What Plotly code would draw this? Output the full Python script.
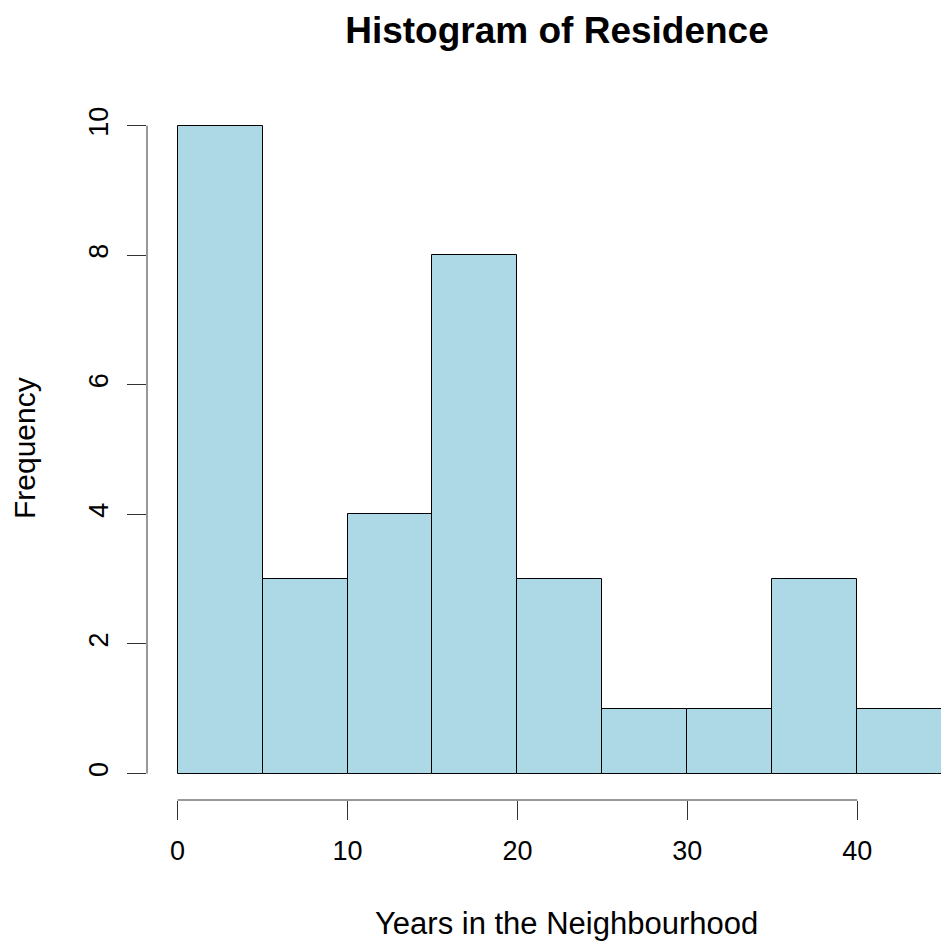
import plotly.graph_objects as go

# Data
bin_edges = [0, 5, 10, 15, 20, 25, 30, 35, 40, 45]
counts = [10, 3, 4, 8, 3, 1, 1, 3, 1]
x_ticks = [0, 10, 20, 30, 40]
y_ticks = [0, 2, 4, 6, 8, 10]

title_text = "Histogram of Residence"
x_label = "Years in the Neighbourhood"
y_label = "Frequency"

mids = [(a + b) / 2 for a, b in zip(bin_edges[:-1], bin_edges[1:])]
widths = [b - a for a, b in zip(bin_edges[:-1], bin_edges[1:])]

FONT = "Liberation Sans, Arial, sans-serif"

fig = go.Figure(
    go.Bar(
        x=mids,
        y=counts,
        width=widths,
        marker=dict(color="#ADD8E6", line=dict(color="black", width=1)),
        hoverinfo="skip",
    )
)

W = H = 941
L, R, T, B = 147, 0, 60, 141

fig.update_layout(
    width=W,
    height=H,
    margin=dict(l=L, r=R, t=T, b=B),
    paper_bgcolor="white",
    plot_bgcolor="white",
    showlegend=False,
    font=dict(family=FONT, color="black"),
    title=dict(
        text=title_text,
        font=dict(family=FONT, size=37, color="black", weight="bold"),
        xref="container",
        yref="container",
        x=557 / W,
        y=1 - 30 / H,
        xanchor="center",
        yanchor="middle",
    ),
    bargap=0,
)

fig.update_xaxes(
    range=[-1.80, 44.93],
    tickvals=x_ticks,
    ticktext=[str(v) for v in x_ticks],
    ticks="outside",
    ticklen=19,
    tickwidth=1,
    tickcolor="#333333",
    showline=False,
    showgrid=False,
    zeroline=False,
    tickfont=dict(family=FONT, size=27, color="black"),
    ticklabelstandoff=8,
)
fig.update_yaxes(
    range=[-0.409, 11.014],
    tickvals=y_ticks,
    ticktext=[str(v) for v in y_ticks],
    ticks="outside",
    ticklen=19,
    tickwidth=1,
    tickcolor="#333333",
    showline=False,
    showgrid=False,
    zeroline=False,
    tickangle=-90,
    tickfont=dict(family=FONT, size=27, color="black"),
    ticklabelstandoff=8,
)

# R-style detached axis lines spanning the tick range
fig.add_shape(type="line", xref="x", yref="paper",
              x0=min(x_ticks), x1=max(x_ticks), y0=0, y1=0,
              line=dict(color="#333333", width=1))
fig.add_shape(type="line", xref="paper", yref="y",
              x0=0, x1=0, y0=min(y_ticks), y1=max(y_ticks),
              line=dict(color="#333333", width=1))

pw = W - L - R
ph = H - T - B
fig.add_annotation(text=x_label, xref="paper", yref="paper",
                   x=(566 - L) / pw, y=(H - B - 923) / ph,
                   xanchor="center", yanchor="middle", showarrow=False,
                   font=dict(family=FONT, size=31, color="black"))
fig.add_annotation(text=y_label, xref="paper", yref="paper",
                   x=(24 - L) / pw, y=(H - B - 448) / ph,
                   xanchor="center", yanchor="middle", showarrow=False,
                   textangle=-90,
                   font=dict(family=FONT, size=30, color="black"))

fig.write_html(
    "out.html",
    config={"displayModeBar": False},
    post_script="document.body.style.margin='0';document.body.style.padding='0';document.body.style.overflow='hidden';",
)
